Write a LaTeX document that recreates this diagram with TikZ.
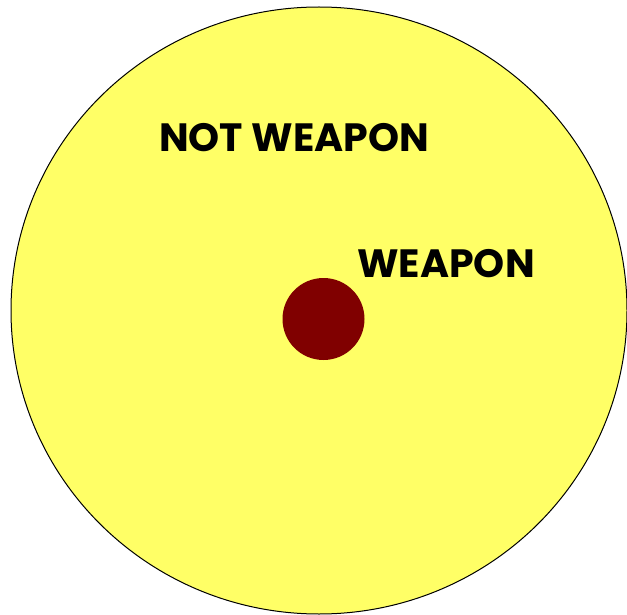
\documentclass[tikz,border=0pt]{standalone}
\usepackage{fontspec}
\usetikzlibrary{shapes.geometric}
\setmainfont{Poppins}
\definecolor{setyellow}{HTML}{FFFF66}
\definecolor{setred}{HTML}{800000}
\begin{document}
\begin{tikzpicture}[x=1pt,y=-1pt]
\useasboundingbox (0,0) rectangle (627,615);
\node[draw, ellipse, fill=setyellow, line width=1pt, minimum width=616pt, minimum height=607pt, inner sep=0pt] (outer) at (319,310.5) {};
\node[circle, fill=setred, minimum size=82pt, inner sep=0pt] (inner) at (323.5,319) {};
\node[font=\bfseries\fontsize{39.5}{41}\selectfont, inner sep=0pt] (notweapon) at (294,137.5) {NOT WEAPON};
\node[font=\bfseries\fontsize{39.5}{41}\selectfont, inner sep=0pt] (weapon) at (446,264) {WEAPON};
\end{tikzpicture}
\end{document}
